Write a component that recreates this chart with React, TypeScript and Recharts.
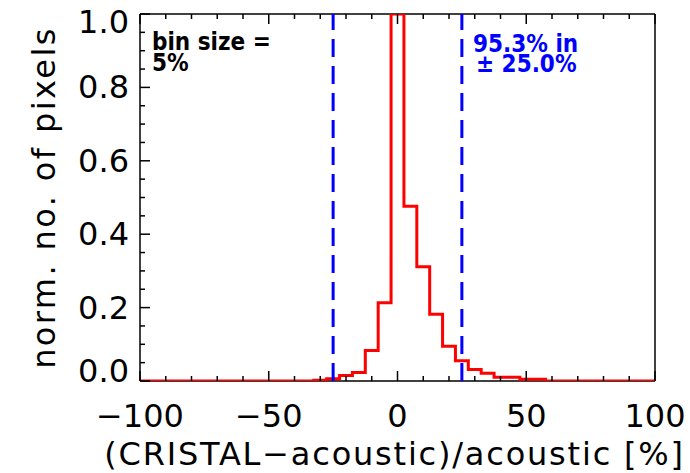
import React from 'react';
import { ComposedChart, Line, XAxis, YAxis, ReferenceLine, Customized } from 'recharts';

// histogram bins (bin size 5%), centre of each bin
const binCenters = [
  -100, -95, -90, -85, -80, -75, -70, -65, -60, -55, -50, -45, -40, -35,
  -30, -25, -20, -15, -10, -5, 0, 5, 10, 15, 20, 25, 30, 35, 40, 45, 50,
  55, 60, 65, 70, 75, 80, 85, 90, 95, 100,
];
const pixelFraction = [
  0, 0, 0, 0, 0, 0, 0, 0, 0, 0, 0, 0, 0, 0,
  0.002, 0.006, 0.015, 0.023, 0.083, 0.213, 1.0, 0.476, 0.311, 0.182, 0.095, 0.055, 0.031, 0.021, 0.01, 0.01, 0.005,
  0.005, 0, 0, 0, 0, 0, 0, 0, 0, 0,
];

const rangeBounds = [-25, 25];

const xMajorTicks = [-100, -50, 0, 50, 100];
const xMinorTicks = [-90, -80, -70, -60, -40, -30, -20, -10, 10, 20, 30, 40, 60, 70, 80, 90];
const yMajorTicks = [0, 0.2, 0.4, 0.6, 0.8, 1.0];
const yMinorTicks = [0.05, 0.1, 0.15, 0.25, 0.3, 0.35, 0.45, 0.5, 0.55, 0.65, 0.7, 0.75, 0.85, 0.9, 0.95];

const data = binCenters.map((bin, i) => ({ bin, value: pixelFraction[i] }));
const xTicks = [...xMajorTicks, ...xMinorTicks].sort((a, b) => a - b);
const yTicks = [...yMajorTicks, ...yMinorTicks].sort((a, b) => a - b);

const MAJOR_LEN = 10;
const MINOR_LEN = 5;
const axisStroke = { stroke: '#000', strokeWidth: 1.5 };
const labelFont = { fontFamily: 'DejaVu Sans', fontSize: 32, fill: '#000' };
const noteFont = { fontFamily: 'DejaVu Sans Condensed', fontSize: 24, fontWeight: 'bold' as const };

const fmtX = (v: number) => (v < 0 ? `\u2212${Math.abs(v)}` : `${v}`);

function BottomTick({ x, y, payload }: any) {
  const major = xMajorTicks.includes(payload.value);
  return (
    <g>
      <line x1={x} x2={x} y1={y} y2={y - (major ? MAJOR_LEN : MINOR_LEN)} {...axisStroke} />
      {major && (
        <text x={x} y={y + 46} textAnchor="middle" {...labelFont}>
          {fmtX(payload.value)}
        </text>
      )}
    </g>
  );
}

function TopTick({ x, y, payload }: any) {
  const major = xMajorTicks.includes(payload.value);
  return <line x1={x} x2={x} y1={y} y2={y + (major ? MAJOR_LEN : MINOR_LEN)} {...axisStroke} />;
}

function LeftTick({ x, y, payload }: any) {
  const major = yMajorTicks.includes(payload.value);
  // end labels sit a little inside the box, like the original
  const shift = payload.value === 0 ? -10 : payload.value === 1 ? 8 : 0;
  return (
    <g>
      <line x1={x} x2={x + (major ? MAJOR_LEN : MINOR_LEN)} y1={y} y2={y} {...axisStroke} />
      {major && (
        <text x={x - 11} y={y + 11 + shift} textAnchor="end" {...labelFont}>
          {payload.value.toFixed(1)}
        </text>
      )}
    </g>
  );
}

function RightTick({ x, y, payload }: any) {
  const major = yMajorTicks.includes(payload.value);
  return <line x1={x} x2={x - (major ? MAJOR_LEN : MINOR_LEN)} y1={y} y2={y} {...axisStroke} />;
}

function Notes() {
  return (
    <g>
      <text fill="#000" {...noteFont}>
        <tspan x={152} y={50}>bin size =</tspan>
        <tspan x={152} y={71}>5%</tspan>
      </text>
      <text fill="#0000ff" {...noteFont}>
        <tspan x={473} y={52}>95.3% in</tspan>
        <tspan x={476} y={72}>± 25.0%</tspan>
      </text>
    </g>
  );
}

export default function App() {
  return (
    <div style={{ position: 'absolute', left: 0, top: 0, width: 690, height: 473, background: '#fff' }}>
      <ComposedChart width={690} height={473} data={data} margin={{ top: 0, right: 0, bottom: 0, left: 0 }}>
        <XAxis
          xAxisId="bottom"
          type="number"
          dataKey="bin"
          domain={[-100, 100]}
          ticks={xTicks}
          interval={0}
          height={92}
          tickSize={0}
          tickMargin={0}
          tickLine={false}
          axisLine={axisStroke}
          tick={<BottomTick />}
          label={{
            content: ({ viewBox }: any) => (
              <text
                x={viewBox.x + viewBox.width / 2 - 3}
                y={viewBox.y + 84}
                textAnchor="middle"
                letterSpacing={1.8}
                {...labelFont}
              >
                (CRISTAL{'\u2212'}acoustic)/acoustic [%]
              </text>
            ),
          }}
        />
        <XAxis
          xAxisId="top"
          orientation="top"
          type="number"
          dataKey="bin"
          domain={[-100, 100]}
          ticks={xTicks}
          interval={0}
          height={14}
          tickSize={0}
          tickMargin={0}
          tickLine={false}
          axisLine={axisStroke}
          tick={<TopTick />}
        />
        <YAxis
          yAxisId="left"
          type="number"
          domain={[0, 1]}
          allowDataOverflow
          ticks={yTicks}
          interval={0}
          width={140}
          tickSize={0}
          tickMargin={0}
          tickLine={false}
          axisLine={axisStroke}
          tick={<LeftTick />}
          label={{
            content: ({ viewBox }: any) => {
              const cx = 55;
              const cy = viewBox.y + viewBox.height / 2;
              return (
                <text
                  x={cx}
                  y={cy}
                  transform={`rotate(-90 ${cx} ${cy})`}
                  textAnchor="middle"
                  letterSpacing={2.4}
                  {...labelFont}
                >
                  norm. no. of pixels
                </text>
              );
            },
          }}
        />
        <YAxis
          yAxisId="right"
          orientation="right"
          type="number"
          domain={[0, 1]}
          ticks={yTicks}
          interval={0}
          width={35}
          tickSize={0}
          tickMargin={0}
          tickLine={false}
          axisLine={axisStroke}
          tick={<RightTick />}
        />
        <Line
          xAxisId="bottom"
          yAxisId="left"
          type="step"
          dataKey="value"
          stroke="#ff0000"
          strokeWidth={3}
          dot={false}
          activeDot={false}
          isAnimationActive={false}
          {...({ zIndex: 700 } as any)}
        />
        {rangeBounds.map((b) => (
          <ReferenceLine
            key={b}
            xAxisId="bottom"
            yAxisId="left"
            x={b}
            stroke="#0000ff"
            strokeWidth={3}
            strokeDasharray="18 9"
            {...({ zIndex: 800 } as any)}
          />
        ))}
        <Customized component={Notes} />
      </ComposedChart>
    </div>
  );
}
